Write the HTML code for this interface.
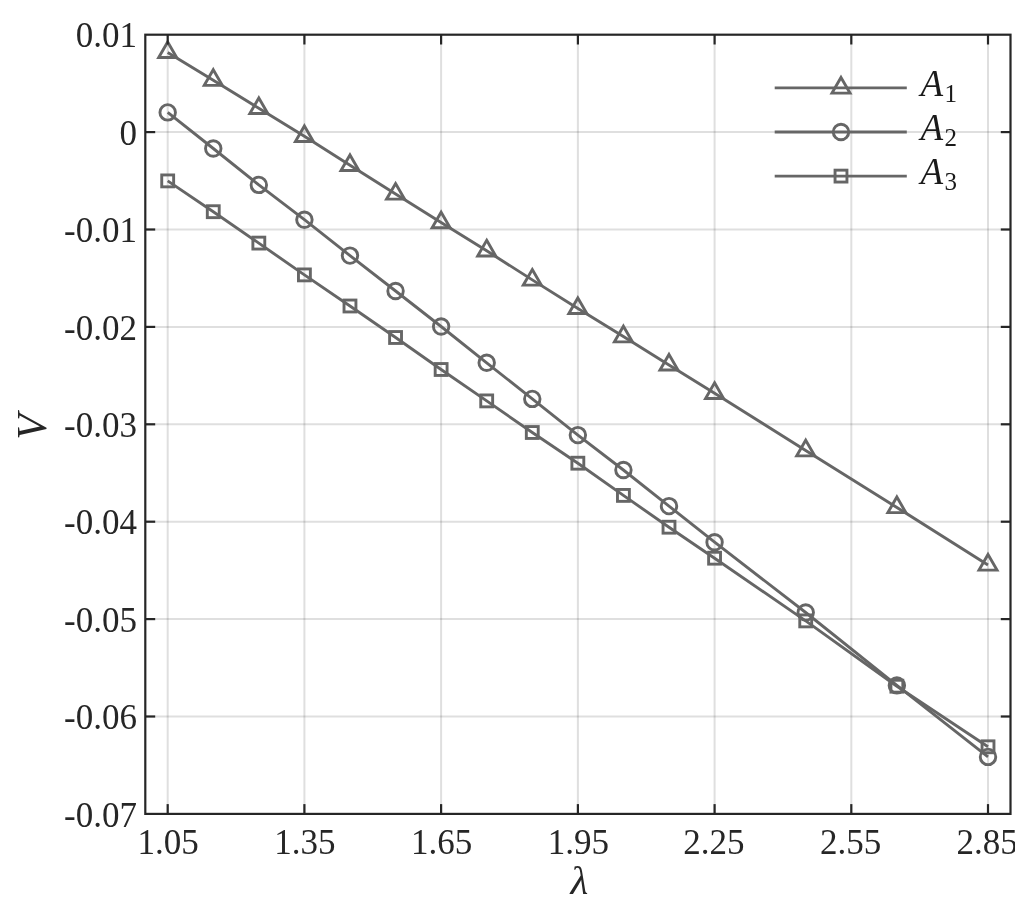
<!DOCTYPE html>
<html><head><meta charset="utf-8"><title>V vs lambda</title>
<style>
html,body{margin:0;padding:0;background:#fff;}
svg{display:block;}
.t{font-family:"Liberation Serif","DejaVu Serif",serif;fill:#262626;}
</style></head><body>
<svg width="1015" height="906" viewBox="0 0 1015 906">
<rect width="1015" height="906" fill="#fff"/>
<g stroke="rgba(38,38,38,0.15)" stroke-width="2" fill="none">
<line x1="167.7" y1="34.7" x2="167.7" y2="813.9"/>
<line x1="304.4" y1="34.7" x2="304.4" y2="813.9"/>
<line x1="441.1" y1="34.7" x2="441.1" y2="813.9"/>
<line x1="577.9" y1="34.7" x2="577.9" y2="813.9"/>
<line x1="714.6" y1="34.7" x2="714.6" y2="813.9"/>
<line x1="851.3" y1="34.7" x2="851.3" y2="813.9"/>
<line x1="988.0" y1="34.7" x2="988.0" y2="813.9"/>
<line x1="145.3" y1="132.1" x2="1010.6" y2="132.1"/>
<line x1="145.3" y1="229.5" x2="1010.6" y2="229.5"/>
<line x1="145.3" y1="326.9" x2="1010.6" y2="326.9"/>
<line x1="145.3" y1="424.3" x2="1010.6" y2="424.3"/>
<line x1="145.3" y1="521.7" x2="1010.6" y2="521.7"/>
<line x1="145.3" y1="619.1" x2="1010.6" y2="619.1"/>
<line x1="145.3" y1="716.5" x2="1010.6" y2="716.5"/>
</g>
<g stroke="#666666" stroke-width="2.9" fill="none" stroke-linejoin="miter" stroke-miterlimit="10">
<polyline points="167.7,52.4 213.3,80.2 258.8,108.3 304.4,136.3 350.0,165.3 395.6,193.9 441.1,222.6 486.7,250.8 532.3,279.9 577.9,308.4 623.4,336.6 669.0,364.9 714.6,393.2 805.7,450.6 896.9,507.4 988.0,564.9" stroke-linejoin="round"/>
<path d="M167.69 41.95L176.69 57.55L158.68 57.55Z"/>
<path d="M213.26 69.75L222.27 85.35L204.25 85.35Z"/>
<path d="M258.83 97.95L267.84 113.55L249.83 113.55Z"/>
<path d="M304.41 125.95L313.41 141.55L295.40 141.55Z"/>
<path d="M349.98 154.95L358.99 170.55L340.97 170.55Z"/>
<path d="M395.56 183.55L404.56 199.15L386.55 199.15Z"/>
<path d="M441.13 212.15L450.14 227.75L432.12 227.75Z"/>
<path d="M486.70 240.35L495.71 255.95L477.70 255.95Z"/>
<path d="M532.28 269.55L541.28 285.15L523.27 285.15Z"/>
<path d="M577.85 297.95L586.86 313.55L568.84 313.55Z"/>
<path d="M623.42 326.25L632.43 341.85L614.42 341.85Z"/>
<path d="M669.00 354.45L678.00 370.05L659.99 370.05Z"/>
<path d="M714.57 382.85L723.58 398.45L705.56 398.45Z"/>
<path d="M805.72 440.25L814.73 455.85L796.71 455.85Z"/>
<path d="M896.87 497.00L905.87 512.60L887.86 512.60Z"/>
<path d="M988.01 554.50L997.02 570.10L979.01 570.10Z"/>
<polyline points="167.7,112.4 213.3,148.5 258.8,184.9 304.4,219.7 350.0,255.6 395.6,291.0 441.1,326.5 486.7,362.8 532.3,398.9 577.9,435.1 623.4,470.0 669.0,506.1 714.6,542.2 805.7,612.5 896.9,685.4 988.0,756.9" stroke-linejoin="round"/>
<circle cx="167.69" cy="112.40" r="7.75"/>
<circle cx="213.26" cy="148.50" r="7.75"/>
<circle cx="258.83" cy="184.90" r="7.75"/>
<circle cx="304.41" cy="219.70" r="7.75"/>
<circle cx="349.98" cy="255.60" r="7.75"/>
<circle cx="395.56" cy="291.00" r="7.75"/>
<circle cx="441.13" cy="326.50" r="7.75"/>
<circle cx="486.70" cy="362.80" r="7.75"/>
<circle cx="532.28" cy="398.90" r="7.75"/>
<circle cx="577.85" cy="435.10" r="7.75"/>
<circle cx="623.42" cy="470.00" r="7.75"/>
<circle cx="669.00" cy="506.10" r="7.75"/>
<circle cx="714.57" cy="542.20" r="7.75"/>
<circle cx="805.72" cy="612.50" r="7.75"/>
<circle cx="896.87" cy="685.40" r="7.75"/>
<circle cx="988.01" cy="756.90" r="7.75"/>
<polyline points="167.7,180.9 213.3,211.7 258.8,243.1 304.4,274.9 350.0,306.0 395.6,337.5 441.1,369.5 486.7,400.9 532.3,432.5 577.9,463.2 623.4,495.4 669.0,527.2 714.6,558.2 805.7,620.9 896.9,686.2 988.0,746.8" stroke-linejoin="round"/>
<rect x="161.74" y="174.95" width="11.90" height="11.90"/>
<rect x="207.31" y="205.75" width="11.90" height="11.90"/>
<rect x="252.88" y="237.15" width="11.90" height="11.90"/>
<rect x="298.46" y="268.95" width="11.90" height="11.90"/>
<rect x="344.03" y="300.05" width="11.90" height="11.90"/>
<rect x="389.61" y="331.55" width="11.90" height="11.90"/>
<rect x="435.18" y="363.55" width="11.90" height="11.90"/>
<rect x="480.75" y="394.95" width="11.90" height="11.90"/>
<rect x="526.33" y="426.55" width="11.90" height="11.90"/>
<rect x="571.90" y="457.25" width="11.90" height="11.90"/>
<rect x="617.47" y="489.45" width="11.90" height="11.90"/>
<rect x="663.05" y="521.25" width="11.90" height="11.90"/>
<rect x="708.62" y="552.25" width="11.90" height="11.90"/>
<rect x="799.77" y="614.95" width="11.90" height="11.90"/>
<rect x="890.92" y="680.25" width="11.90" height="11.90"/>
<rect x="982.06" y="740.85" width="11.90" height="11.90"/>
<line x1="774.7" y1="87.9" x2="906.8" y2="87.9"/>
<path d="M841.00 77.50L850.01 93.10L831.99 93.10Z"/>
<line x1="774.7" y1="132.0" x2="906.8" y2="132.0"/>
<circle cx="841.00" cy="132.00" r="7.75"/>
<line x1="774.7" y1="176.1" x2="906.8" y2="176.1"/>
<rect x="835.05" y="170.15" width="11.90" height="11.90"/>
</g>
<g stroke="#262626" stroke-width="2.2" fill="none" stroke-linecap="butt">
<rect x="145.3" y="34.7" width="865.2" height="779.2"/>
<line x1="167.7" y1="813.9" x2="167.7" y2="804.1"/>
<line x1="167.7" y1="34.7" x2="167.7" y2="44.5"/>
<line x1="304.4" y1="813.9" x2="304.4" y2="804.1"/>
<line x1="304.4" y1="34.7" x2="304.4" y2="44.5"/>
<line x1="441.1" y1="813.9" x2="441.1" y2="804.1"/>
<line x1="441.1" y1="34.7" x2="441.1" y2="44.5"/>
<line x1="577.9" y1="813.9" x2="577.9" y2="804.1"/>
<line x1="577.9" y1="34.7" x2="577.9" y2="44.5"/>
<line x1="714.6" y1="813.9" x2="714.6" y2="804.1"/>
<line x1="714.6" y1="34.7" x2="714.6" y2="44.5"/>
<line x1="851.3" y1="813.9" x2="851.3" y2="804.1"/>
<line x1="851.3" y1="34.7" x2="851.3" y2="44.5"/>
<line x1="988.0" y1="813.9" x2="988.0" y2="804.1"/>
<line x1="988.0" y1="34.7" x2="988.0" y2="44.5"/>
<line x1="145.3" y1="132.1" x2="155.2" y2="132.1"/>
<line x1="1010.6" y1="132.1" x2="1000.8" y2="132.1"/>
<line x1="145.3" y1="229.5" x2="155.2" y2="229.5"/>
<line x1="1010.6" y1="229.5" x2="1000.8" y2="229.5"/>
<line x1="145.3" y1="326.9" x2="155.2" y2="326.9"/>
<line x1="1010.6" y1="326.9" x2="1000.8" y2="326.9"/>
<line x1="145.3" y1="424.3" x2="155.2" y2="424.3"/>
<line x1="1010.6" y1="424.3" x2="1000.8" y2="424.3"/>
<line x1="145.3" y1="521.7" x2="155.2" y2="521.7"/>
<line x1="1010.6" y1="521.7" x2="1000.8" y2="521.7"/>
<line x1="145.3" y1="619.1" x2="155.2" y2="619.1"/>
<line x1="1010.6" y1="619.1" x2="1000.8" y2="619.1"/>
<line x1="145.3" y1="716.5" x2="155.2" y2="716.5"/>
<line x1="1010.6" y1="716.5" x2="1000.8" y2="716.5"/>
</g>
<g class="t" font-size="35">
<text x="168.2" y="853.8" text-anchor="middle">1.05</text>
<text x="304.9" y="853.8" text-anchor="middle">1.35</text>
<text x="441.6" y="853.8" text-anchor="middle">1.65</text>
<text x="578.4" y="853.8" text-anchor="middle">1.95</text>
<text x="713.8" y="853.8" text-anchor="middle">2.25</text>
<text x="850.5" y="853.8" text-anchor="middle">2.55</text>
<text x="987.2" y="853.8" text-anchor="middle">2.85</text>
<text x="137.0" y="47.3" text-anchor="end">0.01</text>
<text x="137.0" y="144.7" text-anchor="end">0</text>
<text x="137.0" y="242.1" text-anchor="end">-0.01</text>
<text x="137.0" y="339.5" text-anchor="end">-0.02</text>
<text x="137.0" y="436.9" text-anchor="end">-0.03</text>
<text x="137.0" y="534.3" text-anchor="end">-0.04</text>
<text x="137.0" y="631.7" text-anchor="end">-0.05</text>
<text x="137.0" y="729.1" text-anchor="end">-0.06</text>
<text x="137.0" y="826.5" text-anchor="end">-0.07</text>
</g>
<text class="t" font-size="41" font-style="italic" text-anchor="middle" x="579.5" y="894.3">λ</text>
<text class="t" font-size="42" font-style="italic" text-anchor="middle" transform="translate(46.4,427) rotate(-90)">V</text>
<text class="t" x="920.5" y="95.7" font-size="37" style="fill:#1a1a1a"><tspan font-style="italic">A</tspan><tspan font-size="25" dx="1.5" dy="6">1</tspan></text>
<text class="t" x="920.5" y="139.8" font-size="37" style="fill:#1a1a1a"><tspan font-style="italic">A</tspan><tspan font-size="25" dx="1.5" dy="6">2</tspan></text>
<text class="t" x="920.5" y="183.9" font-size="37" style="fill:#1a1a1a"><tspan font-style="italic">A</tspan><tspan font-size="25" dx="1.5" dy="6">3</tspan></text>
</svg>
</body></html>
